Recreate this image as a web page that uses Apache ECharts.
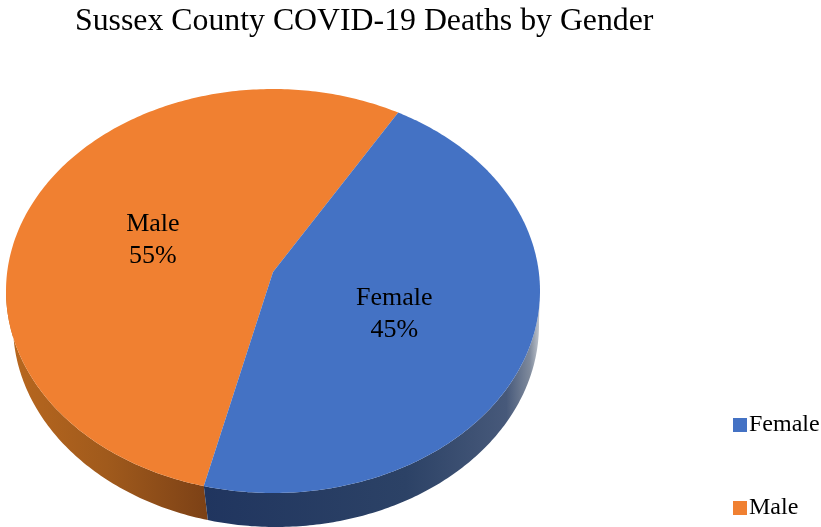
<!DOCTYPE html>
<html>
<head>
<meta charset="utf-8">
<script src="https://cdn.jsdelivr.net/npm/echarts@6/dist/echarts.min.js"></script>
<style>html,body{margin:0;padding:0;background:#fff}#c{width:821px;height:527px}</style>
</head>
<body>
<div id="c"></div>
<script>
const titleText = 'Sussex County COVID-19 Deaths by Gender';
const categories = ['Female', 'Male'];
const seriesValues = [45.3, 54.7];

const FONT = '"Liberation Serif","Times New Roman",serif';
const START = 30.6;
const TOP = {cx: 273, cy: 291, rx: 267, ry: 202};
const BASE = {cx: 276, cy: 325, rx: 263, ry: 202};
const APEX = 0.094;

const total = seriesValues.reduce((a, b) => a + b, 0);

// disc-preserving perspective warp: slice angle (deg, clockwise from top) and radius to ellipse units
function warp(deg, r) {
  const a = deg * Math.PI / 180, x = r * Math.sin(a), y = r * Math.cos(a);
  const d = 1 + APEX * y;
  return [x * Math.sqrt(1 - APEX * APEX) / d, (y + APEX) / d];
}
const onEllipse = (e, p) => [e.cx + p[0] * e.rx, e.cy - p[1] * e.ry];

const topFills = ['#4472c4', '#f08031'];
const wallFills = [
  {type: 'linear', x: 0, y: 0, x2: 1, y2: 0, colorStops: [
    {offset: 0, color: '#20355f'}, {offset: 0.6, color: '#2c4266'},
    {offset: 0.9, color: '#47597a'}, {offset: 0.97, color: '#7f8a9c'}, {offset: 1, color: '#c4c9d0'}]},
  {type: 'linear', x: 0, y: 0, x2: 1, y2: 0, colorStops: [
    {offset: 0, color: '#b9681f'}, {offset: 0.5, color: '#a05a1c'}, {offset: 1, color: '#7c4116'}]}
];

function renderSlice(index) {
  const from = START + 360 * seriesValues.slice(0, index).reduce((a, b) => a + b, 0) / total;
  const span = 360 * seriesValues[index] / total;
  const top = [], wallTop = [], wallBase = [];
  for (let i = 0; i <= 240; i++) {
    const p = warp(from + span * i / 240, 1);
    top.push(onEllipse(TOP, p));
    if (p[1] <= 0.02) { wallTop.push(onEllipse(TOP, p)); wallBase.push(onEllipse(BASE, p)); }
  }
  top.push(onEllipse(TOP, [0, APEX]));
  const mid = warp(from + span / 2, 0.49);
  const lp = onEllipse(TOP, mid);
  const pct = Math.round(100 * seriesValues[index] / total) + '%';
  return {
    type: 'group',
    children: [
      {type: 'polygon', z2: 1, shape: {points: wallTop.concat(wallBase.reverse())}, style: {fill: wallFills[index]}},
      {type: 'polygon', z2: 2, shape: {points: top}, style: {fill: topFills[index]}},
      {type: 'text', z2: 3, x: lp[0] - 1.5, y: lp[1] + 4.5, style: {
        text: categories[index] + '\n' + pct, align: 'center', verticalAlign: 'middle',
        fontFamily: FONT, fontSize: 26, lineHeight: 32, fill: '#000'}}
    ]
  };
}

const chart = echarts.init(document.getElementById('c'), null, {renderer: 'canvas'});
chart.setOption({
  animation: false,
  backgroundColor: '#fff',
  title: {text: titleText, left: 70, top: 1, textStyle: {fontFamily: FONT, fontSize: 31.8, fontWeight: 'normal', color: '#000'}},
  legend: {
    orient: 'vertical', left: 733, top: 413, padding: 0, itemWidth: 14, itemHeight: 14, itemGap: 59, icon: 'rect',
    data: categories, selectedMode: false,
    textStyle: {fontFamily: FONT, fontSize: 24, color: '#000', padding: [0, 0, 0, -3]}
  },
  series: categories.map((name, i) => ({
    type: 'custom', name, coordinateSystem: 'none',
    z: i === 0 ? 3 : 2,
    itemStyle: {color: topFills[i]},
    data: [seriesValues[i]],
    renderItem: () => renderSlice(i)
  }))
});
</script>
</body>
</html>
